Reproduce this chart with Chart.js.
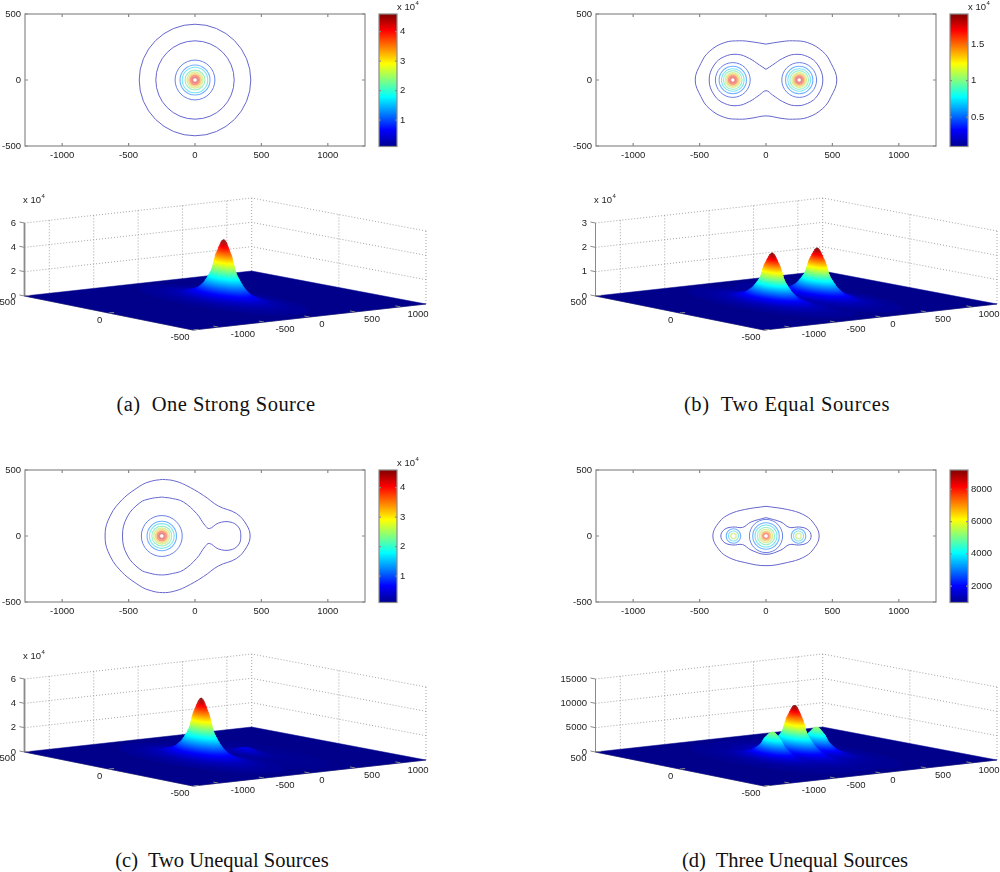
<!DOCTYPE html>
<html>
<head>
<meta charset="utf-8">
<title>Sources</title>
<script src="https://cdn.jsdelivr.net/npm/chart.js@4/dist/chart.umd.min.js"></script>
<style>
  html, body { margin: 0; padding: 0; background: #fff; }
  #page { position: relative; width: 1000px; height: 872px; overflow: hidden; }
  canvas { position: absolute; }
  .cap { position: absolute; width: 400px; text-align: center; white-space: pre;
         font: 20.5px "Liberation Serif", serif; color: #111; }
</style>
</head>
<body>
<div id="page"></div>
<script>
// ---- data ----
const captions = ['(a)  One Strong Source', '(b)  Two Equal Sources', '(c)  Two Unequal Sources', '(d)  Three Unequal Sources'];

const contourXTicks = [-1000, -500, 0, 500, 1000];
const contourYTicks = [-500, 0, 500];
const floorXTicks = [-1000, -500, 0, 500, 1000];
const floorYTicks = [500, 0, -500];

const zTicksA = [0, 20000, 40000, 60000];
const zTicksB = [0, 10000, 20000, 30000];
const zTicksC = [0, 20000, 40000, 60000];
const zTicksD = [0, 5000, 10000, 15000];

const barTicksA = [10000, 20000, 30000, 40000];
const barTicksB = [5000, 10000, 15000];
const barTicksC = [10000, 20000, 30000, 40000];
const barTicksD = [2000, 4000, 6000, 8000];
const barRangeA = [1000, 46000];
const barRangeB = [1000, 19100];
const barRangeC = [1000, 46000];
const barRangeD = [990, 9190];

// contour lines that are not circles, [x, y] going round
const outerB = [[0,272],[113,290],[200,297],[314,283],[428,215],[490,126],[533,0],[490,-126],[428,-215],[314,-283],[200,-297],[113,-290],[0,-272],[-113,-290],[-200,-297],[-314,-283],[-428,-215],[-490,-126],[-533,0],[-490,126],[-428,215],[-314,283],[-200,297],[-113,290],[0,272]];
const middleB = [[0,81],[50,114],[126,164],[214,194],[314,177],[390,114],[428,0],[390,-114],[314,-177],[214,-194],[126,-164],[50,-114],[0,-81],[-50,-114],[-126,-164],[-214,-194],[-314,-177],[-390,-114],[-428,0],[-390,114],[-314,177],[-214,194],[-126,164],[-50,114],[0,81]];
const outerC = [[-244,429],[-160,419],[-70,385],[63,308],[176,227],[314,169],[390,81],[415,0],[390,-81],[314,-169],[176,-227],[63,-308],[-70,-385],[-160,-419],[-244,-429],[-330,-415],[-415,-378],[-566,-257],[-654,-119],[-677,0],[-654,119],[-566,257],[-415,378],[-330,415],[-244,429]];
const middleC = [[-252,295],[-170,284],[-88,258],[13,169],[75,81],[108,56],[176,98],[264,106],[327,68],[345,0],[327,-68],[264,-106],[176,-98],[108,-56],[75,-81],[13,-169],[-88,-258],[-170,-284],[-252,-295],[-340,-282],[-415,-252],[-511,-144],[-546,0],[-511,144],[-415,252],[-340,282],[-252,295]];
const outerD = [[0,225],[164,200],[277,164],[352,106],[400,0],[352,-106],[277,-164],[164,-200],[0,-225],[-164,-200],[-277,-164],[-352,-106],[-400,0],[-352,106],[-277,164],[-164,200],[0,225]];
const middleD = [[0,139],[113,106],[176,65],[252,68],[315,48],[340,0],[315,-48],[252,-68],[176,-65],[113,-106],[0,-139],[-113,-106],[-176,-65],[-252,-68],[-315,-48],[-340,0],[-315,48],[-252,68],[-176,65],[-113,106],[0,139]];

// circular contour lines: radius per level
const ringsA = [420, 295, 150, 113, 96, 75, 60, 46, 34, 22];
const ringsB = [131, 103, 85, 70, 55, 44, 33, 21];
const ringsC = [154, 111, 93, 75, 60, 46, 34, 22];
const ringsDMid = [125, 100, 83, 65, 50, 35, 22];
const ringsDSide = [55, 38, 20];

// height profile of one source: fraction of its height and radius there
const profileLevel = [.01,.02,.03,.04,.055,.07,.085,.10,.115,.13,.145,.16,.175,.19,.205,.22,.235,.25,.265,.28,.295,.31,.325,.34,.355,.37,.385,.40,.415,.43,.445,.46,.475,.49,.505,.52,.535,.55,.565,.58,.595,.61,.625,.64,.655,.67,.685,.70,.715,.73,.745,.76,.775,.79,.805,.82,.835,.85,.865,.88,.895,.91,.925,.94,.955,.97,.985,.995];
const profileRadius = [430,340,290,258,225,205,188,172,160,150,142,135,129,124,119,114,110,106,102,99,96,93,90,87,84,82,79,76,74,71,69,67,65,63,62,60,59,58,57,56,54,53,52,51,50,48,47,46,45,43,42,40,38,36,34,32,30,29,27,25,23,21,19,17,15,12,8,4];

// sources per surface, back one first
const sourceXA = [0];
const sourceHA = [50000];
const sourceXB = [250, -250];
const sourceHB = [20500, 20500];
const sourceXC = [250, -250];
const sourceHC = [5000, 50000];
const sourceXD = [245, 0, -245];
const sourceHD = [5500, 10500, 5500];

const unitRingX = [1,.966,.866,.707,.5,.259,0,-.259,-.5,-.707,-.866,-.966,-1,-.966,-.866,-.707,-.5,-.259,0,.259,.5,.707,.866,.966,1];
const unitRingY = [0,.259,.5,.707,.866,.966,1,.966,.866,.707,.5,.259,0,-.259,-.5,-.707,-.866,-.966,-1,-.966,-.866,-.707,-.5,-.259,0];

// ---- styles ----
const levelColors = ['#6666cc', '#6666d0', '#6a80e4', '#70b0ff', '#80e4f0', '#a0eec8', '#dcf098', '#f8d488', '#f89888', '#e88888'];
const levelWidths = [1, 1, 1, 1.1, 1.1, 1.2, 1.4, 1.8, 2.2, 2.2];
const captionSpacing = [0.45, 0.6, 0, 0];
const jetStops = [[0, [0,0,143]], [.125, [0,0,255]], [.375, [0,255,255]], [.625, [255,255,0]], [.875, [255,0,0]], [1, [128,0,0]]];
const tickFont = { family: 'Liberation Sans', size: 9.5 };
const inkColor = '#222';
const boxColor = '#8a8a8a';

function jet(t) {
    for (let i = 1; i < jetStops.length; i++) {
        if (t <= jetStops[i][0]) {
            const a = jetStops[i - 1], b = jetStops[i];
            const f = (t - a[0]) / (b[0] - a[0]);
            return 'rgb(' + a[1].map((c, k) => Math.round(c + (b[1][k] - c) * f)).join(',') + ')';
        }
    }
    return 'rgb(128,0,0)';
}

Chart.defaults.animation = false;
Chart.defaults.responsive = false;
Chart.defaults.plugins.legend.display = false;
Chart.defaults.plugins.tooltip.enabled = false;

function drawExponent(ctx, x, y) {
    ctx.save();
    ctx.fillStyle = inkColor;
    ctx.textAlign = 'left';
    ctx.textBaseline = 'middle';
    ctx.font = '9.5px "Liberation Sans"';
    ctx.fillText('x 10', x, y);
    const w = ctx.measureText('x 10').width;
    ctx.font = '6px "Liberation Sans"';
    ctx.fillText('4', x + w + 0.5, y - 4);
    ctx.restore();
}

// frame, inward ticks, exponent and free text
Chart.register({
    id: 'panelExtras',
    afterDraw(chart, args, opts) {
        const ctx = chart.ctx, area = chart.chartArea;
        if (opts.frame) {
            ctx.save();
            ctx.strokeStyle = boxColor;
            ctx.lineWidth = 1.2;
            ctx.strokeRect(area.left, area.top, area.right - area.left, area.bottom - area.top);
            const len = opts.tickLen || 0;
            ctx.beginPath();
            chart.scales.y.ticks.forEach(t => {
                const p = chart.scales.y.getPixelForValue(t.value);
                ctx.moveTo(area.left, p); ctx.lineTo(area.left + len, p);
                ctx.moveTo(area.right, p); ctx.lineTo(area.right - len, p);
            });
            if (opts.xTicks) {
                chart.scales.x.ticks.forEach(t => {
                    const p = chart.scales.x.getPixelForValue(t.value);
                    ctx.moveTo(p, area.top); ctx.lineTo(p, area.top + len);
                    ctx.moveTo(p, area.bottom); ctx.lineTo(p, area.bottom - len);
                });
            }
            ctx.stroke();
            ctx.restore();
        }
        if (opts.exponentAt) drawExponent(ctx, opts.exponentAt[0], opts.exponentAt[1]);
        (opts.items || []).forEach(it => {
            ctx.save();
            ctx.font = '9.5px "Liberation Sans"';
            ctx.fillStyle = inkColor;
            ctx.textAlign = it.align;
            ctx.textBaseline = 'middle';
            ctx.fillText(it.text, it.x, it.y);
            ctx.restore();
        });
    }
});

const page = document.getElementById('page');
function addCanvas(left, top, w, h) {
    const c = document.createElement('canvas');
    c.width = w; c.height = h;
    c.style.left = left + 'px';
    c.style.top = top + 'px';
    c.style.width = w + 'px';
    c.style.height = h + 'px';
    page.appendChild(c);
    return c;
}

// ---- contour panels ----
function ringSet(radii, cx, firstLevel, lastLevels) {
    return radii.map((r, i) => {
        const level = lastLevels ? lastLevels[i] : firstLevel + i;
        return {
            data: [{ x: cx, y: 0, r: r }],
            showLine: false,
            pointBackgroundColor: 'transparent',
            pointBorderColor: levelColors[level],
            pointBorderWidth: levelWidths[level],
            pointRadius: c => {
                const sx = c.chart.scales.x;
                return c.raw ? sx.getPixelForValue(c.raw.x + c.raw.r) - sx.getPixelForValue(c.raw.x) : 0;
            }
        };
    });
}

function lineSet(points, level) {
    return {
        data: points.map(p => ({ x: p[0], y: p[1] })),
        showLine: true,
        tension: 0.4,
        borderColor: levelColors[level],
        borderWidth: levelWidths[level],
        pointRadius: 0
    };
}

function contourChart(left, top, datasets) {
    new Chart(addCanvas(left, top, 375, 170), {
        type: 'scatter',
        data: { datasets: datasets },
        options: {
            layout: { padding: { top: 14, right: 10 } },
            scales: {
                x: {
                    type: 'linear', min: -1280, max: 1280,
                    grid: { display: false, drawTicks: false }, border: { display: false },
                    afterBuildTicks: s => { s.ticks = contourXTicks.map(v => ({ value: v })); },
                    afterFit: s => { s.height = 24; s.paddingLeft = 0; s.paddingRight = 0; },
                    ticks: { font: tickFont, color: inkColor, padding: 4, maxRotation: 0, autoSkip: false, callback: v => String(v) }
                },
                y: {
                    type: 'linear', min: -500, max: 500,
                    grid: { display: false, drawTicks: false }, border: { display: false },
                    afterBuildTicks: s => { s.ticks = contourYTicks.map(v => ({ value: v })); },
                    afterFit: s => { s.width = 25; s.paddingTop = 0; s.paddingBottom = 0; },
                    ticks: { font: tickFont, color: inkColor, padding: 4, autoSkip: false, callback: v => String(v) }
                }
            },
            plugins: { panelExtras: { frame: true, tickLen: 3, xTicks: true } }
        }
    });
}

// ---- colour bars ----
function colorBar(left, top, range, ticks, withExponent) {
    new Chart(addCanvas(left, top, 60, 150), {
        type: 'bar',
        data: {
            labels: [''],
            datasets: [{
                data: [range],
                barPercentage: 1,
                categoryPercentage: 1,
                borderWidth: 0,
                backgroundColor: c => {
                    const area = c.chart.chartArea;
                    if (!area) return '#888';
                    const g = c.chart.ctx.createLinearGradient(0, area.bottom, 0, area.top);
                    jetStops.forEach(s => g.addColorStop(s[0], jet(s[0])));
                    return g;
                }
            }]
        },
        options: {
            layout: { padding: { left: 9, top: 14, bottom: 3.5 } },
            scales: {
                x: { display: false },
                y: {
                    position: 'right', min: range[0], max: range[1],
                    grid: { display: false, drawTicks: false }, border: { display: false },
                    afterBuildTicks: s => { s.ticks = ticks.map(v => ({ value: v })); },
                    afterFit: s => { s.width = 33; s.paddingTop = 0; s.paddingBottom = 0; },
                    ticks: {
                        font: tickFont, color: inkColor, padding: 3, autoSkip: false,
                        callback: v => String(withExponent ? v / 10000 : v)
                    }
                }
            },
            plugins: { panelExtras: { frame: true, tickLen: 2, exponentAt: withExponent ? [27, 7] : null } }
        }
    });
}

// ---- surface panels ----
const view = { front: [193, 150], right: [426, 124], left: [24.5, 116], back: [251.7, 91], zPx: 73, xMax: 1280, pad: 30 };

function project(x, y, z, zTop) {
    const s = (x + view.xMax) / (2 * view.xMax), r = (y + 500) / 1000;
    const mix = k => view.front[k] * (1 - s) * (1 - r) + view.right[k] * s * (1 - r) + view.left[k] * (1 - s) * r + view.back[k] * s * r;
    return { x: mix(0), y: mix(1) - z / zTop * view.zPx };
}

function path(points, extra) {
    return Object.assign({ data: points, showLine: true, pointRadius: 0, borderWidth: 1, clip: false }, extra);
}

function ringFill(cx, r, z, zTop, color) {
    const pts = unitRingX.map((dx, i) => project(cx + r * dx, r * unitRingY[i], z, zTop));
    return path(pts, { fill: 'shape', backgroundColor: color, borderColor: color, borderWidth: 0.6 });
}

function surfaceChart(left, top, zTicks, sourceX, sourceH, heavyAxis, withExponent) {
    const zTop = zTicks[zTicks.length - 1];
    const xLo = -view.xMax, xHi = view.xMax;
    const dotted = { borderColor: '#9a9a9a', borderWidth: 0.9, borderDash: [1, 2] };
    const solid = { borderColor: '#8a8a8a', borderWidth: heavyAxis ? 1.8 : 1 };
    const tickMark = { borderColor: '#8a8a8a', borderWidth: 1 };
    const sets = [];

    // grid on the two back walls
    zTicks.slice(1).forEach(z => {
        sets.push(path([project(xLo, 500, z, zTop), project(xHi, 500, z, zTop), project(xHi, -500, z, zTop)], dotted));
    });
    floorXTicks.forEach(x => sets.push(path([project(x, 500, 0, zTop), project(x, 500, zTop, zTop)], dotted)));
    [500, 0, -500].forEach(y => sets.push(path([project(xHi, y, 0, zTop), project(xHi, y, zTop, zTop)], dotted)));

    // axes
    sets.push(path([project(xLo, 500, 0, zTop), project(xLo, 500, zTop, zTop)], solid));
    zTicks.forEach(z => sets.push(path([project(xLo, 500, z, zTop), project(xLo, 530, z, zTop)], tickMark)));
    sets.push(path([project(xLo, 500, 0, zTop), project(xLo, -500, 0, zTop), project(xHi, -500, 0, zTop)], { borderColor: '#8a8a8a', borderWidth: 1.2 }));

    // floor
    sets.push(path([project(xLo, 500, 0, zTop), project(xHi, 500, 0, zTop), project(xHi, -500, 0, zTop), project(xLo, -500, 0, zTop), project(xLo, 500, 0, zTop)],
        { fill: 'shape', backgroundColor: '#00008b', borderColor: '#00008b', borderWidth: 0.5 }));

    // low skirts of all sources first, by height, then each source back to front
    const tallest = Math.max(...sourceH);
    const skirts = [];
    sourceX.forEach((cx, k) => {
        profileLevel.forEach((t, i) => {
            if (t < 0.1) skirts.push({ cx: cx, r: profileRadius[i], z: t * sourceH[k] });
        });
    });
    skirts.sort((a, b) => a.z - b.z).forEach(s => sets.push(ringFill(s.cx, s.r, s.z, zTop, jet(s.z / tallest))));
    sourceX.forEach((cx, k) => {
        profileLevel.forEach((t, i) => {
            if (t >= 0.1) sets.push(ringFill(cx, profileRadius[i], t * sourceH[k], zTop, jet(t * sourceH[k] / tallest)));
        });
    });

    // edge ticks sit on top of the floor
    floorXTicks.forEach(x => sets.push(path([project(x, -500, 0, zTop), project(x, -470, 0, zTop)], tickMark)));
    floorYTicks.forEach(y => sets.push(path([project(xLo, y, 0, zTop), project(xLo + 60, y, 0, zTop)], tickMark)));

    // labels, in canvas pixels
    const items = [];
    const xNudge = [24.5, 21, 12.5, 17, 17.5];
    floorXTicks.forEach((x, i) => {
        const p = project(x, -500, 0, zTop);
        items.push({ text: String(x), x: p.x + view.pad + xNudge[i], y: p.y + 7.5, align: 'center' });
    });
    const yNudge = [[-17, 6], [-9, 7], [-13, 7]];
    floorYTicks.forEach((y, i) => {
        const p = project(xLo, y, 0, zTop);
        items.push({ text: String(y), x: p.x + view.pad + yNudge[i][0], y: p.y + yNudge[i][1], align: 'center' });
    });
    zTicks.forEach(z => {
        const p = project(xLo, 500, z, zTop);
        items.push({ text: String(withExponent ? z / 10000 : z), x: p.x + view.pad - 8.5, y: p.y, align: 'right' });
    });

    new Chart(addCanvas(left - view.pad, top, 429 + view.pad, 170), {
        type: 'scatter',
        data: { datasets: sets.reverse() },   // chart.js paints the first dataset last
        options: {
            layout: { padding: 0 },
            scales: {
                x: { type: 'linear', min: -view.pad, max: 429, display: false },
                y: { type: 'linear', min: 0, max: 170, reverse: true, display: false }
            },
            plugins: { panelExtras: { items: items, exponentAt: withExponent ? [23 + view.pad, 20] : null } }
        }
    });
}

// ---- build the page ----
const colRight = 571, rowLow = 456, surfaceTop = 180;

contourChart(0, 0, ringSet(ringsA, 0, 0));
colorBar(370, 0, barRangeA, barTicksA, true);
surfaceChart(0, surfaceTop, zTicksA, sourceXA, sourceHA, true, true);

contourChart(colRight, 0, [lineSet(outerB, 0), lineSet(middleB, 1)]
    .concat(ringSet(ringsB, -250, 2), ringSet(ringsB, 250, 2)));
colorBar(941, 0, barRangeB, barTicksB, true);
surfaceChart(colRight, surfaceTop, zTicksB, sourceXB, sourceHB, false, true);

contourChart(0, rowLow, [lineSet(outerC, 0), lineSet(middleC, 1)].concat(ringSet(ringsC, -250, 2)));
colorBar(370, rowLow, barRangeC, barTicksC, true);
surfaceChart(0, surfaceTop + rowLow, zTicksC, sourceXC, sourceHC, true, true);

contourChart(colRight, rowLow, [lineSet(outerD, 0), lineSet(middleD, 1)]
    .concat(ringSet(ringsDMid, 0, 2), ringSet(ringsDSide, -245, 3, [3, 4, 6]), ringSet(ringsDSide, 245, 3, [3, 4, 6])));
colorBar(941, rowLow, barRangeD, barTicksD, false);
surfaceChart(colRight, surfaceTop + rowLow, zTicksD, sourceXD, sourceHD, false, false);

// captions
[[16, 393], [587, 393], [22, 849], [595, 849]].forEach((pos, i) => {
    const d = document.createElement('div');
    d.className = 'cap';
    d.textContent = captions[i];
    d.style.letterSpacing = captionSpacing[i] + 'px';
    d.style.left = pos[0] + 'px';
    d.style.top = pos[1] + 'px';
    page.appendChild(d);
});
</script>
</body>
</html>
